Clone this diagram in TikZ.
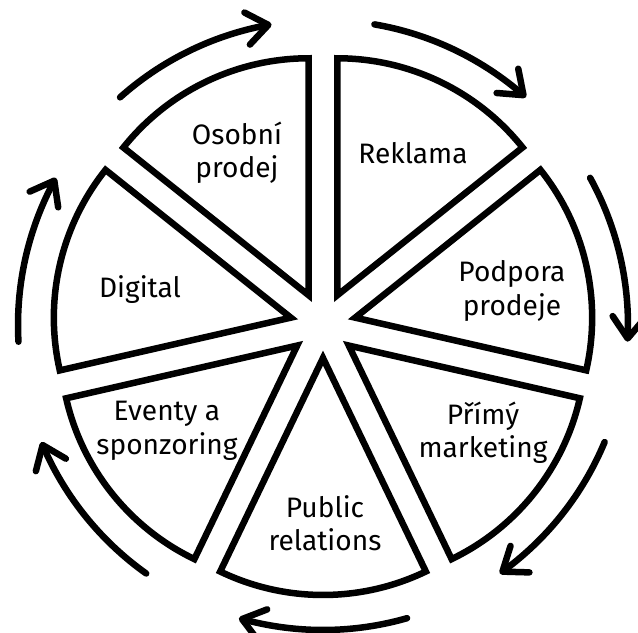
\documentclass[tikz,border=0pt]{standalone}
\usepackage{fontspec}
\setsansfont{Fira Sans}
\usetikzlibrary{arrows.meta,bending}

\begin{document}
\begin{tikzpicture}[x=0.2mm, y=0.2mm,
    sector/.style={draw, line width=3.7pt, fill=white},
    cyclearrow/.style={line width=3.7pt, line cap=round,
        -{Straight Barb[round, length=4.3mm, width=6.5mm]}},
    every node/.style={font=\sffamily\fontsize{16}{19}\selectfont, align=center}]
    \useasboundingbox (-323,-308) rectangle (315,325);

    % vysece a sipky po obvodu
    \foreach \b in {64.29, 12.86, -38.57, -90, -141.43, 167.14, 115.71} {
        \draw[sector] (\b:33) -- ++(\b-25.71:237)
            arc[start angle=\b-25.71, delta angle=51.43, radius=237] -- cycle;
        \draw[cyclearrow] (\b+16:305) arc[start angle=\b+16, end angle=\b-16, radius=305];
    }

    \node (Reklama) at (90,172) {Reklama};
    \node (Podpora) at (189,34) {Podpora\\prodeje};
    \node (Primy) at (160,-108) {Přímý\\marketing};
    \node (PR) at (2,-198) {Public\\relations};
    \node (Eventy) at (-156,-106) {Eventy a\\sponzoring};
    \node (Digital) at (-183,35) {Digital};
    \node (Osobni) at (-86,172) {Osobní\\prodej};
\end{tikzpicture}
\end{document}
